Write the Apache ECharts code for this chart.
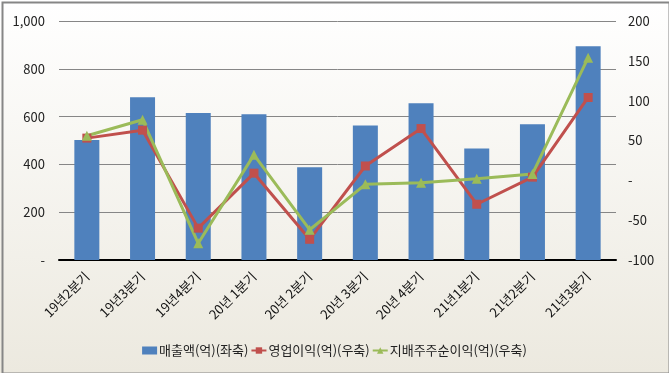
<!DOCTYPE html>
<html><head><meta charset="utf-8">
<script src="https://cdn.jsdelivr.net/npm/echarts@6/dist/echarts.min.js"></script>
<style>html,body{margin:0;padding:0;}#c{width:669px;height:373px;}</style>
</head><body><div id="c"></div>
<script>
const categories = ['19년2분기','19년3분기','19년4분기','20년 1분기','20년 2분기','20년 3분기','20년 4분기','21년1분기','21년2분기','21년3분기'];
const sales = [502, 681, 615, 610, 388, 563, 656, 467, 568, 894];
const opProfit = [53, 63, -60, 9, -74, 18, 65, -30, 4, 104];
const netProfit = [56, 76, -79, 32, -62, -5, -3, 2, 8, 154];
const leftTicks = [0, 200, 400, 600, 800, 1000];
const rightTicks = [-100, -50, 0, 50, 100, 150, 200];
const names = ['매출액(억)(좌축)','영업이익(억)(우축)','지배주주순이익(억)(우축)'];

const font = '"Noto Sans CJK KR", "Noto Sans", sans-serif';
const chart = echarts.init(document.getElementById('c'));
chart.setOption({
  animation: false,
  backgroundColor: new echarts.graphic.LinearGradient(0,0,0,1,[{offset:0,color:'#ffffff'},{offset:1,color:'#ece9df'}]),
  textStyle: {fontFamily: font},
  graphic: [{type:'rect', left:0, top:0, shape:{x:1,y:1,width:667,height:371}, style:{fill:'none', stroke:'#868686', lineWidth:2}, silent:true}],
  grid: {left:59, right:53, top:21, bottom:113},
  legend: {
    bottom: 11, left: 'center', itemGap: 2, itemWidth: 15, itemHeight: 8,
    textStyle: {fontSize: 13, color: '#222', fontFamily: font, padding:[0,0,0,-3]},
    data: [
      {name: names[0], icon: 'rect'},
      {name: names[1]},
      {name: names[2]}
    ]
  },
  xAxis: {
    type: 'category', data: categories,
    axisLine: {lineStyle: {color: '#000', width: 2}},
    axisTick: {show: false},
    axisLabel: {rotate: 45, fontSize: 13, color: '#111', margin: 14, interval: 0}
  },
  yAxis: [
    {type:'value', min:0, max:1000, interval:200,
     axisLine:{show:false}, axisTick:{show:false},
     splitLine:{lineStyle:{color:'#868686', width:1}},
     axisLabel:{fontSize:13, color:'#222', margin:14, formatter: v => v===0 ? '-' : v.toLocaleString('en-US')}},
    {type:'value', min:-100, max:200, interval:50,
     axisLine:{show:false}, axisTick:{show:false}, splitLine:{show:false},
     axisLabel:{fontSize:13, color:'#222', margin:12, formatter: v => v===0 ? '-' : String(v)}}
  ],
  series: [
    {name:names[0], type:'bar', data:sales, barWidth:25, itemStyle:{color:'#4f81bd'}, yAxisIndex:0},
    {name:names[1], type:'line', data:opProfit, yAxisIndex:1, symbol:'rect', symbolSize:9,
     lineStyle:{color:'#c0504d', width:3}, itemStyle:{color:'#c0504d'}},
    {name:names[2], type:'line', data:netProfit, yAxisIndex:1, symbol:'triangle', symbolSize:10,
     lineStyle:{color:'#9bbb59', width:3}, itemStyle:{color:'#9bbb59'}}
  ]
});
</script></body></html>
